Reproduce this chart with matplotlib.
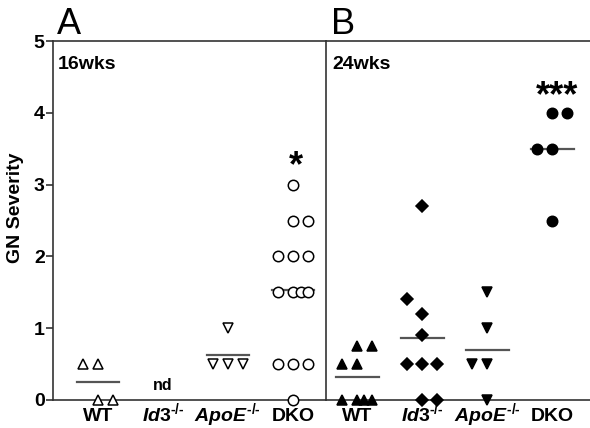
import matplotlib.pyplot as plt

plt.rcParams['font.family'] = ['Liberation Sans', 'DejaVu Sans']
plt.rcParams['font.weight'] = 'bold'
plt.rcParams['axes.labelweight'] = 'bold'
plt.rcParams['mathtext.fontset'] = 'custom'
plt.rcParams['mathtext.it'] = 'Liberation Sans:bold:italic'
plt.rcParams['mathtext.rm'] = 'Liberation Sans:bold'

groups = ['WT', r'$\mathit{Id3}^{\mathit{‐/‐}}$', r'$\mathit{ApoE}^{\mathit{‐/‐}}$', 'DKO']

# panel A (16 wks): (x offset within group, score)
a_wt = [(-0.23, 0.5), (0.0, 0.5), (0.0, 0.0), (0.23, 0.0)]
a_apoe = [(0.0, 1.0), (-0.23, 0.5), (0.0, 0.5), (0.23, 0.5)]
a_dko = [(0.0, 3.0), (0.0, 2.5), (0.23, 2.5),
         (-0.23, 2.0), (0.0, 2.0), (0.23, 2.0),
         (-0.23, 1.5), (0.0, 1.5), (0.12, 1.5), (0.23, 1.5),
         (-0.23, 0.5), (0.0, 0.5), (0.23, 0.5), (0.0, 0.0)]
a_lines = [0.25, None, 0.625, 1.536]

# panel B (24 wks)
b_wt = [(0.0, 0.75), (0.23, 0.75), (-0.23, 0.5), (0.0, 0.5),
        (-0.23, 0.0), (0.0, 0.0), (0.1, 0.0), (0.23, 0.0)]
b_id3 = [(0.0, 2.7), (-0.23, 1.4), (0.0, 1.2), (0.0, 0.9),
         (-0.23, 0.5), (0.0, 0.5), (0.22, 0.5), (0.0, 0.0), (0.22, 0.0)]
b_apoe = [(0.0, 1.5), (0.0, 1.0), (-0.23, 0.5), (0.0, 0.5), (0.0, 0.0)]
b_dko = [(0.0, 4.0), (0.23, 4.0), (-0.23, 3.5), (0.0, 3.5), (0.0, 2.5)]
b_lines = [0.32, 0.86, 0.7, 3.5]

spine_c = '#333333'
line_c = '#555555'

fig = plt.figure(figsize=(5.9, 4.28), dpi=100)
ax1 = fig.add_axes([53/590, 1-400/428, 273/590, 359/428])
ax2 = fig.add_axes([326/590, 1-400/428, 264/590, 359/428])


def draw(ax, idx, pts, marker, filled, ms=7.5):
    xs = [idx + dx for dx, _ in pts]
    ys = [v for _, v in pts]
    ax.plot(xs, ys, linestyle='none', marker=marker, ms=ms,
            mfc='black' if filled else 'white', mec='black', mew=1.1,
            clip_on=False, zorder=3)


def mean_line(ax, idx, v):
    ax.plot([idx - 0.32, idx + 0.33], [v, v], color=line_c, lw=1.6, zorder=2)


draw(ax1, 0, a_wt, '^', False)
draw(ax1, 2, a_apoe, 'v', False)
draw(ax1, 3, a_dko, 'o', False)
for i, v in enumerate(a_lines):
    if v is not None:
        mean_line(ax1, i, v)
ax1.text(1, 0.2, 'nd', ha='center', va='center', fontsize=11.5)
ax1.text(3.05, 3.25, '*', ha='center', va='center', fontsize=26)
ax1.text(0.018, 4.67, '16wks', transform=ax1.get_yaxis_transform(),
         ha='left', va='center', fontsize=14)

draw(ax2, 0, b_wt, '^', True)
draw(ax2, 1, b_id3, 'D', True, ms=6)
draw(ax2, 2, b_apoe, 'v', True)
draw(ax2, 3, b_dko, 'o', True)
for i, v in enumerate(b_lines):
    mean_line(ax2, i, v)
ax2.text(3.07, 4.22, '***', ha='center', va='center', fontsize=26)
ax2.text(0.023, 4.67, '24wks', transform=ax2.get_yaxis_transform(),
         ha='left', va='center', fontsize=14)

ax1.set_xlim(-0.69, 3.51)
ax2.set_xlim(-0.48, 3.58)
for ax in (ax1, ax2):
    ax.set_ylim(0, 5)
    ax.set_xticks([])
    for i, g in enumerate(groups):
        ax.text(i, -0.058, g, transform=ax.get_xaxis_transform(),
                ha='center', va='baseline', fontsize=14)
    for s in ax.spines.values():
        s.set_color(spine_c)
        s.set_linewidth(1.2)
    ax.spines['right'].set_visible(False)

ax1.set_yticks(range(6))
ax1.tick_params(axis='y', length=5, width=1.2, color=spine_c, labelsize=14, pad=1)
ax1.set_ylabel('GN Severity', fontsize=14)
ax1.yaxis.set_label_coords(-0.105, 0.535)
ax2.set_yticks([])

fig.text(57/590, 1-34/428, 'A', fontsize=26, fontweight='normal', va='baseline')
fig.text(331/590, 1-34/428, 'B', fontsize=26, fontweight='normal', va='baseline')

fig.savefig('out.png', dpi=100)
